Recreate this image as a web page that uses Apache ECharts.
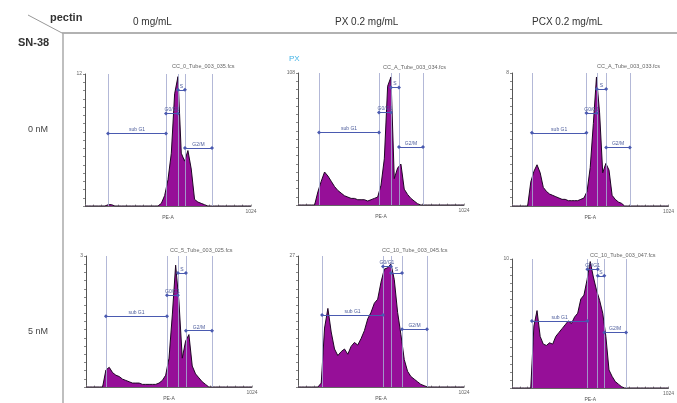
<!DOCTYPE html>
<html>
<head>
<meta charset="utf-8">
<script src="https://cdn.jsdelivr.net/npm/echarts@6/dist/echarts.min.js"></script>
<style>
  html, body { margin: 0; padding: 0; background: #fff; }
  #main { width: 677px; height: 403px; }
</style>
</head>
<body>
<div id="main"></div>
<script>
// channel bins (PE-A, 0..1000)
const channels = [0,20,40,60,80,100,120,140,160,180,200,220,240,260,280,300,320,340,360,380,400,
  420,440,460,480,500,520,540,560,580,600,620,640,660,680,700,720,740,760,780,800,
  820,840,860,880,900,920,940,960,980,1000];

// counts, % of panel max
const ctrl0nM = [0,0,0,0,0,0,0,1,1,0,0,0,0,0,0,0,0,0,0,0,0,0,0,2,8,20,40,85,98,40,34,42,28,5,3,2,1,0,0,0,0,0,0,0,0,0,0,0,0,0,0];
const px0nM   = [0,0,0,0,0,0,10,18,25,22,18,14,11,9,7,6,5,5,4,4,4,3,4,5,6,15,35,90,97,20,28,31,12,8,5,3,1,0,0,0,0,0,0,0,0,0,0,0,0,0,0];
const pcx0nM  = [0,0,0,0,0,0,18,26,31,25,14,11,9,8,7,6,5,5,4,4,4,4,5,6,11,29,62,97,70,25,32,27,8,5,3,2,0,0,0,0,0,0,0,0,0,0,0,0,0,0,0];
const ctrl5nM = [0,0,0,0,0,0,13,15,11,9,8,6,5,4,3,3,3,2,2,2,2,2,3,5,9,22,55,93,65,22,35,40,16,10,7,4,2,0,0,0,0,0,0,0,0,0,0,0,0,0,0];
const px5nM   = [0,0,0,0,0,0,0,3,45,60,42,29,24,27,29,25,31,34,32,37,43,52,57,64,67,80,90,91,94,82,57,40,21,12,8,6,4,2,1,0,0,0,0,0,0,0,0,0,0,0,0];
const pcx5nM  = [0,0,0,0,0,0,0,48,60,40,34,33,35,34,40,43,46,49,52,50,55,58,69,72,84,98,86,76,68,58,40,14,9,5,3,1,0,0,0,0,0,0,0,0,0,0,0,0,0,0,0];

const histograms = [ctrl0nM, px0nM, pcx0nM, ctrl5nM, px5nM, pcx5nM];
const fileNames = ['CC_0_Tube_003_035.fcs', 'CC_A_Tube_003_034.fcs', 'CC_A_Tube_003_033.fcs',
  'CC_5_Tube_003_025.fcs', 'CC_10_Tube_003_045.fcs', 'CC_10_Tube_003_047.fcs'];
const yMaxLabels = ['12', '108', '8', '3', '27', '10'];

// cell-cycle gates
const gateNames = ['sub G1', 'G0/G1', 'S', 'G2/M'];
const gateEdges = [
  [139, 488, 560, 602, 765],
  [127, 488, 560, 608, 753],
  [127, 476, 542, 602, 753],
  [120, 488, 554, 602, 759],
  [145, 512, 560, 627, 777],
  [127, 482, 548, 590, 729]
];
const gateLevels = [
  [55, 70, 88, 44],
  [55, 70, 89, 44],
  [55, 70, 88, 44],
  [54, 70, 87, 43],
  [55, 92, 87, 44],
  [52, 92, 87, 43]
];

const columnLabels = ['0 mg/mL', 'PX 0.2 mg/mL', 'PCX 0.2 mg/mL'];
const rowLabels = ['0 nM', '5 nM'];

// panel boxes: left, top, width, height
const boxes = [
  [85, 74, 166, 132], [298, 73, 166, 132], [512, 73, 166, 133],
  [86, 256, 166, 131], [298, 256, 166, 131], [512, 259, 166, 129]
];
const filePos = [[172, 66], [383, 67], [597, 66], [170, 250], [382, 250], [590, 255]];

const chart = echarts.init(document.getElementById('main'));

const grid = [], xAxis = [], yAxis = [], series = [];
boxes.forEach((b, i) => {
  grid.push({ left: b[0], top: b[1], width: b[2], height: b[3], containLabel: false });
  xAxis.push({
    type: 'value', gridIndex: i, min: 0, max: 1000, interval: 50,
    name: 'PE-A', nameLocation: 'middle', nameGap: 5,
    nameTextStyle: { fontSize: 5, color: '#555' },
    axisLine: { lineStyle: { color: '#666', width: 1 } },
    axisTick: { show: true, length: 1.5, inside: true, lineStyle: { color: '#999' } },
    axisLabel: { fontSize: 5, color: '#666', margin: 3, formatter: v => v === 1000 ? '1024' : '' },
    splitLine: { show: false }
  });
  yAxis.push({
    type: 'value', gridIndex: i, min: 0, max: 100, interval: 6.25,
    axisLine: { show: true, lineStyle: { color: '#555', width: 1 } },
    axisTick: { show: true, length: 2, lineStyle: { color: '#888' } },
    axisLabel: { fontSize: 5, color: '#666', margin: 3, formatter: v => v === 100 ? yMaxLabels[i] : '' },
    splitLine: { show: false }
  });

  const ml = [];
  gateEdges[i].forEach(v => ml.push({ xAxis: v, lineStyle: { color: '#a6abd0', width: 1, type: 'solid', opacity: 0.85 }, label: { show: false } }));
  gateNames.forEach((n, g) => ml.push([
    { coord: [gateEdges[i][g], gateLevels[i][g]], name: n, symbol: 'diamond', symbolSize: 4,
      lineStyle: { color: '#4a5ab0', width: 1, type: 'solid' },
      label: { show: true, position: 'insideMiddleTop', formatter: '{b}', fontSize: 5, color: '#4a5a9a', distance: 1 } },
    { coord: [gateEdges[i][g + 1], gateLevels[i][g]], symbol: 'diamond', symbolSize: 4 }
  ]));

  series.push({
    type: 'line', xAxisIndex: i, yAxisIndex: i,
    data: channels.map((c, k) => [c, histograms[i][k]]),
    showSymbol: false, symbol: 'none', animation: false,
    lineStyle: { color: '#1e0624', width: 1 },
    areaStyle: { color: '#960f98', opacity: 1 },
    markLine: { silent: true, symbol: 'none', animation: false, data: ml }
  });
});

const graphic = [
  { type: 'line', shape: { x1: 28, y1: 15, x2: 62, y2: 33 }, style: { stroke: '#999', lineWidth: 1 } },
  { type: 'line', shape: { x1: 62, y1: 33, x2: 677, y2: 33 }, style: { stroke: '#999', lineWidth: 1.5 } },
  { type: 'line', shape: { x1: 63, y1: 33, x2: 63, y2: 403 }, style: { stroke: '#aaa', lineWidth: 1.5 } },
  { type: 'text', left: 50, top: 12, style: { text: 'pectin', fontSize: 11, fontWeight: 'bold', fill: '#333', fontFamily: 'Liberation Sans' } },
  { type: 'text', left: 18, top: 37, style: { text: 'SN-38', fontSize: 11, fontWeight: 'bold', fill: '#333', fontFamily: 'Liberation Sans' } },
  { type: 'text', left: 289, top: 55, style: { text: 'PX', fontSize: 8, fill: '#45b4e6', fontFamily: 'Liberation Sans' } }
];
const colX = [133, 335, 532];
columnLabels.forEach((t, k) => graphic.push({ type: 'text', left: colX[k], top: 17, style: { text: t, fontSize: 10, fill: '#333', fontFamily: 'Liberation Sans' } }));
const rowY = [125, 327];
rowLabels.forEach((t, k) => graphic.push({ type: 'text', left: 28, top: rowY[k], style: { text: t, fontSize: 9, fill: '#444', fontFamily: 'Liberation Sans' } }));
fileNames.forEach((t, k) => graphic.push({ type: 'text', left: filePos[k][0], top: filePos[k][1] - 3, style: { text: t, fontSize: 5.5, fill: '#666', fontFamily: 'Liberation Sans' } }));

chart.setOption({
  backgroundColor: '#fff',
  animation: false,
  textStyle: { fontFamily: 'Liberation Sans' },
  grid, xAxis, yAxis, series, graphic
});
</script>
</body>
</html>
